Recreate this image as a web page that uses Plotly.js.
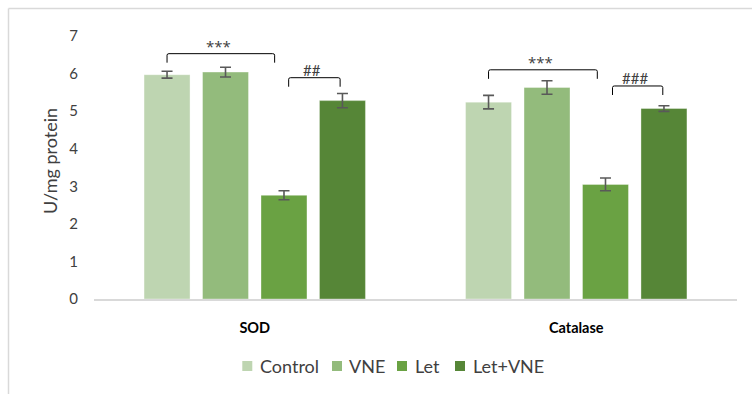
<!DOCTYPE html>
<html>
<head>
<meta charset="utf-8">
<script src="https://cdn.plot.ly/plotly-3.0.1.min.js"></script>
<style>
html,body{margin:0;padding:0;background:#fff;}
#chart{width:752px;height:394px;}
</style>
</head>
<body>
<div id="chart"></div>
<script>
// ---- data ----
const categories = ["SOD", "Catalase"];
const seriesNames = ["Control", "VNE", "Let", "Let+VNE"];
const controlVals = [5.97, 5.24];
const vneVals     = [6.04, 5.63];
const letVals     = [2.76, 3.05];
const letVneVals  = [5.28, 5.07];
const controlErr  = [0.09, 0.18];
const vneErr      = [0.13, 0.18];
const letErr      = [0.12, 0.17];
const letVneErr   = [0.19, 0.075];
const yTitle = "U/mg protein";
// significance brackets: category index, from slot, to slot, label, height
const bracketCat   = [0, 0, 1, 1];
const bracketFrom  = [-1.5, 0.58, -1.5, 0.62];
const bracketTo    = [0.34, 1.46, 0.36, 1.48];
const bracketLabel = ["***", "##", "***", "###"];
const bracketTop   = [6.53, 5.89, 6.10, 5.67];

// ---- styling ----
const colors = ["#bed5b1", "#93bb7c", "#6aa243", "#568637"];
const FONT = "Lato, 'Open Sans', sans-serif";
const bargap = 0.2725;
const slot = (1 - bargap) / 4;
const L = 94, R = 15, T = 36, B = 95, W = 752 - L - R, H = 394 - T - B;
const px = v => (v - L) / W;          // pixel x -> paper x
const py = v => (T + H - v) / H;      // pixel y -> paper y

const vals = [controlVals, vneVals, letVals, letVneVals];
const errs = [controlErr, vneErr, letErr, letVneErr];

const traces = seriesNames.map((name, i) => ({
  type: "bar",
  name: name,
  x: categories,
  y: vals[i],
  marker: {color: colors[i], line: {color: "rgba(255,255,255,0.35)", width: 1}},
  error_y: {type: "data", array: errs[i], visible: true, color: "#595959", thickness: 1.6, width: 5.5},
  hoverinfo: "y+name"
}));

const shapes = [];
const annotations = [];
const legDrop = 0.24;
for (let k = 0; k < bracketLabel.length; k++) {
  const x0 = bracketCat[k] + bracketFrom[k] * slot;
  const x1 = bracketCat[k] + bracketTo[k] * slot;
  const yt = bracketTop[k];
  const yb = yt - legDrop;
  shapes.push({
    type: "path", xref: "x", yref: "y",
    path: `M ${x0} ${yb} L ${x0} ${yt - 0.04} Q ${x0} ${yt} ${x0 + 0.006} ${yt} L ${x1 - 0.006} ${yt} Q ${x1} ${yt} ${x1} ${yt - 0.04} L ${x1} ${yb}`,
    line: {color: "#000000", width: 1}
  });
  const isStar = bracketLabel[k].indexOf("*") >= 0;
  annotations.push({
    xref: "x", yref: "y", x: (x0 + x1) / 2 - 0.008, y: yt,
    text: bracketLabel[k], showarrow: false, yanchor: "bottom", yshift: isStar ? -4 : -3,
    font: {family: isStar ? "'Open Sans', sans-serif" : FONT, size: isStar ? 15 : 15, color: "#404040"}
  });
}
// y axis title
annotations.push({
  xref: "paper", yref: "paper", x: px(50), y: py(161), textangle: -90,
  text: yTitle, showarrow: false, xanchor: "center", yanchor: "middle",
  font: {family: FONT, size: 18, color: "#404040"}
});
// custom legend
const legSq = [242.3, 332, 397, 455];
const legTx = [257.5, 347, 413, 470.5];
const legY = 366;
for (let i = 0; i < seriesNames.length; i++) {
  shapes.push({type: "rect", xref: "paper", yref: "paper",
    x0: px(legSq[i]), x1: px(legSq[i] + 10), y0: py(legY + 5), y1: py(legY - 5),
    fillcolor: colors[i], line: {width: 0}});
  annotations.push({xref: "paper", yref: "paper", x: px(legTx[i]), y: py(legY),
    xanchor: "left", yanchor: "middle", showarrow: false, text: seriesNames[i],
    font: {family: FONT, size: 18, color: "#404040"}});
}
// chart frame (left and top edges)
shapes.push({type: "line", xref: "paper", yref: "paper",
  x0: px(8.5), x1: px(8.5), y0: py(8.5), y1: py(400),
  line: {color: "#d9d9d9", width: 1.5}});
shapes.push({type: "line", xref: "paper", yref: "paper",
  x0: px(8.5), x1: px(760), y0: py(8.5), y1: py(8.5),
  line: {color: "#d9d9d9", width: 1.5}});

const layout = {
  width: 752, height: 394,
  margin: {l: L, r: R, t: T, b: B},
  paper_bgcolor: "#ffffff", plot_bgcolor: "#ffffff",
  barmode: "group", bargap: bargap, bargroupgap: 0.2137,
  font: {family: FONT, color: "#404040"},
  showlegend: false,
  xaxis: {
    type: "category", showgrid: false, zeroline: false,
    showline: true, linecolor: "#d9d9d9", linewidth: 2,
    ticks: "", ticklabelstandoff: 15,
    tickfont: {family: FONT, size: 14.5, color: "#000000", weight: "bold"},
    fixedrange: true
  },
  yaxis: {
    range: [0, 7], dtick: 1, showgrid: false, zeroline: false, showline: false,
    ticks: "", ticklabelstandoff: 15,
    tickfont: {family: FONT, size: 15, color: "#404040"},
    fixedrange: true
  },
  shapes: shapes,
  annotations: annotations
};

Plotly.newPlot("chart", traces, layout, {displayModeBar: false, staticPlot: true});
</script>
</body>
</html>
